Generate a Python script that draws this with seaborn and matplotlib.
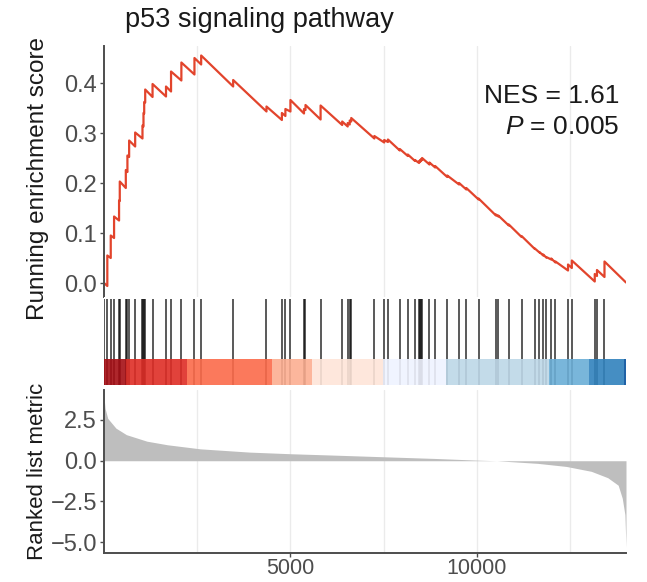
import matplotlib
matplotlib.use("Agg")
import matplotlib.pyplot as plt
import seaborn as sns
import numpy as np

# ---------------- data ----------------
title = "p53 signaling pathway"
n_genes = 14000

hit_ranks = [5, 89, 181, 270, 404, 423, 585, 628, 674, 836, 1032, 1059, 1078, 1105,
             1302, 1663, 1798, 2075, 2426, 2606, 3464, 4358, 4771, 4865, 5000, 5364,
             5404, 5809, 6388, 6536, 6590, 6631, 7251, 7515, 7615, 7933, 8148, 8342,
             8450, 8477, 8504, 8531, 8728, 8881, 9205, 9523, 9717, 10046, 10512, 10574,
             10857, 11199, 11555, 11679, 11779, 11860, 11995, 12108, 12445, 12547,
             13162, 13221, 13423]

# running enrichment score: value just before and just after each jump
es_jump_ranks = hit_ranks[1:]
es_before = [-0.006, 0.050, 0.090, 0.125, 0.164, 0.190, 0.222, 0.252, 0.273, 0.289,
             0.313, 0.339, 0.361, 0.372, 0.373, 0.383, 0.405, 0.417, 0.437, 0.393,
             0.343, 0.326, 0.334, 0.343, 0.339, 0.346, 0.327, 0.316, 0.313, 0.317,
             0.323, 0.289, 0.281, 0.282, 0.265, 0.254, 0.244, 0.240, 0.242, 0.244,
             0.246, 0.237, 0.231, 0.212, 0.197, 0.187, 0.167, 0.135, 0.133, 0.115,
             0.092, 0.068, 0.061, 0.055, 0.051, 0.047, 0.041, 0.025, 0.030, 0.003,
             0.014, 0.012]
es_after = [0.055, 0.095, 0.133, 0.165, 0.203, 0.226, 0.255, 0.285, 0.301, 0.315,
            0.340, 0.362, 0.387, 0.398, 0.393, 0.423, 0.441, 0.450, 0.455, 0.406,
            0.353, 0.340, 0.348, 0.366, 0.348, 0.356, 0.355, 0.323, 0.320, 0.325,
            0.330, 0.294, 0.286, 0.287, 0.268, 0.257, 0.246, 0.244, 0.246, 0.248,
            0.250, 0.241, 0.234, 0.215, 0.200, 0.190, 0.169, 0.137, 0.135, 0.117,
            0.094, 0.069, 0.062, 0.057, 0.052, 0.049, 0.043, 0.037, 0.045, 0.018,
            0.026, 0.043]
es_start_value = 0.0
es_end_value = 0.001

metric_ranks = [0, 30, 100, 320, 600, 1150, 1700, 2580, 3900, 5000, 6100, 7550,
                8880, 9980, 10530, 11630, 12400, 13070, 13510, 13790, 13900, 13970, 14000]
metric_values = [3.9, 3.2, 2.6, 2.0, 1.6, 1.2, 0.98, 0.73, 0.53, 0.43, 0.35, 0.24,
                 0.14, 0.04, 0.0, -0.16, -0.35, -0.65, -1.04, -1.5, -2.3, -3.3, -5.3]

bar_edges = [0, 593, 2237, 4501, 5580, 7493, 9164, 11940, 13019, 13935, 14000]
bar_colors = ["#A50F15", "#DE2D26", "#FB6A4A", "#FCAE91", "#FEE5D9",
              "#EFF3FF", "#BDD7E7", "#6BAED6", "#3182BD", "#08519C"]

es_yticks = [0.0, 0.1, 0.2, 0.3, 0.4]
metric_yticks = [-5.0, -2.5, 0.0, 2.5]
x_ticks = [5000, 10000]
grid_x = [2500, 5000, 7500, 10000, 12500]
nes_label = "NES = 1.61"
p_label = "0.005"

# ---------------- style ----------------
sns.set_theme(style="white")
plt.rcParams["font.family"] = ["Liberation Sans", "DejaVu Sans"]
plt.rcParams["mathtext.fontset"] = "custom"
plt.rcParams["mathtext.it"] = "Liberation Sans:italic"
plt.rcParams["mathtext.rm"] = "Liberation Sans"

W, H = 647, 582
fig = plt.figure(figsize=(W / 100, H / 100), dpi=100)

def box(l, t, r, b):
    return [l / W, 1 - b / H, (r - l) / W, (b - t) / H]

ax1 = fig.add_axes(box(104, 46, 626, 297))
ax2 = fig.add_axes(box(104, 297, 626, 385))
ax3 = fig.add_axes(box(104, 390, 626, 553))

spine_col = "#4d4d4d"
tick_col = "#4d4d4d"
grid_col = "#ebebeb"

# ---- top: running ES ----
xs = [0]
ys = [es_start_value]
for r, b, a in zip(es_jump_ranks, es_before, es_after):
    xs += [r, r]
    ys += [b, a]
xs.append(n_genes)
ys.append(es_end_value)

for g in grid_x:
    ax1.axvline(g, color=grid_col, lw=1.0, zorder=0)
sns.lineplot(x=xs, y=ys, sort=False, estimator=None, ax=ax1,
             color="#E2442C", linewidth=1.6)
ax1.set_xlim(0, n_genes)
ax1.set_ylim(-0.028, 0.474)
ax1.set_yticks(es_yticks)
ax1.set_yticklabels([f"{v:.1f}" for v in es_yticks])
ax1.set_xticks([])
for s in ["top", "right", "bottom"]:
    ax1.spines[s].set_visible(False)
ax1.spines["left"].set_color(spine_col)
ax1.spines["left"].set_linewidth(1.4)
ax1.tick_params(axis="y", length=3, width=1, color=spine_col, labelsize=17,
                labelcolor=tick_col, pad=2, left=True)
ax1.text(0.988, 0.80, nes_label, transform=ax1.transAxes, ha="right", va="center",
         fontsize=19, color="#1a1a1a")
ax1.text(0.988, 0.677, r"$\mathit{P}$ = " + p_label, transform=ax1.transAxes,
         ha="right", va="center", fontsize=19, color="#1a1a1a")

# ---- middle: hits + colour bar ----
ax2.vlines(hit_ranks, 0, 0.98, color="black", alpha=0.7, lw=1.3, zorder=1)
for i, c in enumerate(bar_colors):
    ax2.axvspan(bar_edges[i], bar_edges[i + 1], ymin=0, ymax=0.29, color=c,
                alpha=0.9, lw=0, zorder=2)
ax2.set_xlim(0, n_genes)
ax2.set_ylim(0, 1)
ax2.set_xticks([])
ax2.set_yticks([])
for s in ax2.spines.values():
    s.set_visible(False)

# ---- bottom: ranked list metric ----
for g in grid_x:
    ax3.axvline(g, color=grid_col, lw=1.0, zorder=0)
ax3.fill_between(metric_ranks, 0, metric_values, color="#BEBEBE", lw=0, zorder=1)
ax3.set_xlim(0, n_genes)
ax3.set_ylim(-5.66, 4.34)
ax3.set_yticks(metric_yticks)
ax3.set_yticklabels([f"{v:.1f}".replace("-", "\u2212") for v in metric_yticks])
ax3.set_xticks(x_ticks)
ax3.set_xticklabels([str(v) for v in x_ticks])
for s in ["top", "right"]:
    ax3.spines[s].set_visible(False)
for s in ["left", "bottom"]:
    ax3.spines[s].set_color(spine_col)
    ax3.spines[s].set_linewidth(1.4)
ax3.tick_params(axis="y", length=3, width=1, color=spine_col, labelsize=17,
                labelcolor=tick_col, pad=2, left=True)
ax3.tick_params(axis="x", length=3, width=1, color=spine_col, labelsize=15.5,
                labelcolor=tick_col, pad=0.5, bottom=True)

# ---- texts ----
fig.text(125 / W, 1 - 20 / H, title, ha="left", va="center", fontsize=19.5,
         color="#1a1a1a")
fig.text(38 / W, 1 - 178 / H, "Running enrichment score", rotation=90,
         ha="center", va="center", fontsize=17.5, color="#1a1a1a")
fig.text(38 / W, 1 - 471 / H, "Ranked list metric", rotation=90,
         ha="center", va="center", fontsize=16, color="#1a1a1a")

fig.savefig("out.png", dpi=100)
